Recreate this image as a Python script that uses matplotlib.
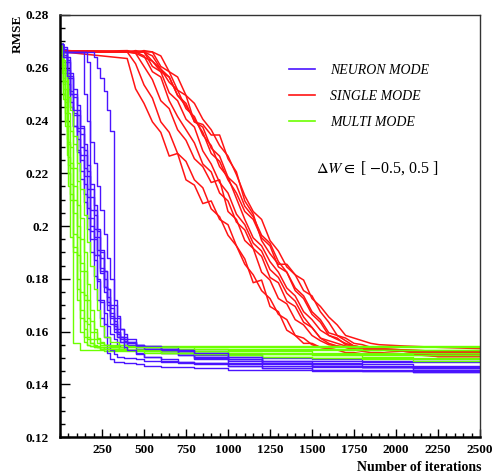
import matplotlib
matplotlib.use("Agg")
import matplotlib.pyplot as plt
from matplotlib.lines import Line2D
from matplotlib.ticker import MultipleLocator, FixedLocator

# iteration grids (x values shared by the runs of one mode)
red_x = [0, 20, 400, 450, 500, 550, 600, 650, 700, 750, 800, 850, 900, 950,
         1000, 1050, 1100, 1150, 1200, 1250, 1300, 1350, 1400, 1450, 1500,
         1550, 1600, 1650, 1700, 1750, 1800, 1850, 1900, 2050, 2250, 2500]
blue_x = [0, 20, 40, 60, 80, 100, 120, 140, 160, 180, 200, 220, 240, 260, 280,
          300, 320, 340, 360, 380, 400, 450, 500, 600, 700, 800, 1000, 1200,
          1500, 1800, 2100, 2500]
green_x = [0, 10, 20, 30, 40, 50, 60, 80, 100, 120, 140, 160, 180, 200, 220,
           240, 260, 300, 350, 400, 500, 600, 800, 1000, 1200, 1500, 1800,
           2100, 2500]

# SINGLE MODE runs
red_runs = [
    [.269, .266, .2635, .252, .2465, .2395, .2355, .2265, .2275, .2175, .2155, .2085, .2095, .2025, .2005, .1925, .1875, .1785,
     .1795, .1695, .1675, .1605, .1585, .1555, .1555, .154, .1535, .153, .153, .153, .153, .153, .153, .1525, .1525, .1525],
    [.269, .2665, .266, .2615, .2535, .2485, .2395, .2355, .2275, .2245, .2175, .2145, .2065, .2035, .1965, .1925, .1855, .1815,
     .1755, .1725, .1665, .1645, .1585, .1575, .155, .154, .1535, .153, .152, .152, .1515, .1515, .1515, .1515, .151, .151],
    [.269, .266, .266, .2655, .2605, .2555, .2475, .2445, .2365, .2325, .2255, .2225, .2165, .2175, .2055, .2025, .1945, .1915,
     .1825, .1795, .1725, .1705, .1645, .1625, .1585, .1565, .155, .1545, .154, .1535, .153, .153, .153, .1525, .1525, .1525],
    [.269, .2665, .266, .266, .2645, .2585, .2565, .2475, .2415, .2365, .2315, .2235, .2205, .2125, .2095, .2015, .1985, .1915,
     .1885, .1805, .1785, .1715, .1695, .1635, .1615, .1575, .1555, .1545, .154, .153, .1525, .152, .152, .1515, .1505, .1505],
    [.269, .266, .2665, .266, .266, .2605, .2585, .2505, .2475, .2405, .2375, .2285, .2235, .2165, .2125, .2045, .2005, .1935,
     .1905, .1835, .1805, .1745, .1715, .1655, .1615, .1575, .1565, .1555, .1545, .154, .1535, .153, .153, .1525, .152, .152],
    [.269, .2665, .266, .266, .266, .2625, .2595, .2545, .2515, .2445, .2415, .2345, .2305, .2225, .2185, .2105, .2025, .1955,
     .1925, .1865, .1825, .1765, .1735, .1675, .1645, .1605, .1585, .157, .1555, .1545, .154, .1535, .1535, .153, .1525, .1525],
    [.269, .266, .266, .2665, .266, .266, .2605, .2585, .2515, .2495, .2395, .2375, .2295, .2265, .2185, .2155, .2075, .2035,
     .1965, .1935, .1865, .1825, .1765, .1735, .1675, .1645, .1595, .1585, .1565, .1545, .154, .1535, .1535, .153, .1525, .1525],
    [.269, .266, .266, .266, .2665, .266, .2645, .2585, .2565, .2495, .2465, .2405, .2365, .2305, .2265, .2195, .2115, .2055,
     .2025, .1945, .1905, .1845, .1815, .1755, .1735, .1675, .1635, .1585, .1575, .1555, .155, .154, .1535, .1525, .1515, .1515],
    [.269, .266, .266, .2655, .264, .2625, .2585, .2565, .2495, .2465, .2395, .2385, .2345, .2345, .2255, .2205, .2095, .2045,
     .1945, .1895, .1855, .1855, .1815, .1795, .1725, .1695, .1655, .1625, .1585, .1575, .1565, .1555, .155, .1545, .154, .1535],
    [.269, .2665, .266, .266, .266, .2645, .2595, .2565, .2495, .2455, .2405, .2355, .2275, .2245, .2175, .2125, .2055, .2025,
     .1955, .1925, .1845, .1825, .1755, .1725, .1665, .1635, .1585, .1575, .155, .1545, .154, .1535, .153, .1525, .1505, .1505],
]

# NEURON MODE runs
blue_runs = [
    [.269, .262, .254, .245, .238, .229, .221, .212, .203, .195, .187, .179, .172, .167, .162, .159,
     .157, .155, .154, .1535, .153, .152, .1505, .149, .1485, .148, .1475, .147, .1465, .1465, .146, .146],
    [.269, .266, .259, .251, .243, .236, .227, .219, .211, .203, .196, .189, .182, .175, .168, .163,
     .160, .158, .156, .155, .1545, .1535, .153, .152, .151, .1495, .148, .1475, .147, .1465, .146, .146],
    [.269, .267, .262, .256, .249, .242, .235, .227, .219, .211, .204, .196, .188, .180, .173, .167,
     .163, .160, .158, .157, .156, .155, .154, .1525, .151, .150, .1495, .149, .149, .1485, .1485, .1485],
    [.269, .266, .264, .258, .252, .246, .238, .231, .223, .216, .208, .199, .191, .183, .176, .169,
     .164, .160, .158, .156, .155, .1545, .154, .1535, .153, .1525, .151, .150, .1495, .149, .149, .149],
    [.269, .264, .256, .247, .238, .228, .218, .209, .199, .190, .181, .172, .165, .158, .152, .1495,
     .1485, .1485, .1485, .148, .148, .1475, .147, .1465, .1465, .146, .1455, .1455, .145, .145, .145, .145],
    [.269, .265, .258, .250, .242, .233, .225, .216, .207, .198, .189, .180, .171, .163, .158, .153,
     .1515, .1505, .1505, .150, .150, .1495, .149, .1485, .148, .1475, .147, .146, .1455, .1455, .1445, .1445],
    [.269, .266, .266, .266, .266, .266, .266, .266, .262, .200, .195, .189, .183, .177, .171, .166,
     .162, .159, .157, .156, .155, .154, .1535, .153, .152, .151, .1495, .148, .147, .1465, .146, .146],
    [.269, .266, .266, .266, .266, .266, .266, .266, .266, .266, .264, .260, .256, .251, .244, .236,
     .170, .165, .161, .159, .157, .155, .1545, .1535, .1525, .151, .1495, .148, .1475, .147, .147, .147],
    [.269, .266, .266, .266, .266, .266, .266, .250, .240, .232, .224, .215, .206, .197, .188, .180,
     .172, .166, .161, .158, .156, .1545, .154, .153, .152, .1505, .149, .148, .147, .1465, .1455, .1455],
    [.269, .268, .263, .257, .250, .244, .237, .229, .221, .214, .206, .198, .190, .183, .176, .170,
     .165, .161, .158, .1565, .1555, .155, .1545, .154, .153, .152, .1505, .149, .148, .1475, .1465, .1465],
    [.269, .264, .257, .250, .244, .237, .230, .222, .214, .206, .199, .191, .184, .177, .170, .165,
     .161, .158, .156, .154, .153, .1515, .1505, .1495, .1485, .148, .147, .146, .1455, .145, .1445, .1445],
]

# MULTI MODE runs
green_runs = [
    [.269, .258, .248, .238, .227, .215, .196, .1555, .1555, .153, .153, .153, .153, .153, .153,
     .153, .1525, .1525, .1525, .1525, .152, .152, .152, .1515, .1515, .151, .151, .151, .151],
    [.269, .262, .255, .247, .240, .232, .224, .210, .196, .183, .172, .163, .157, .155, .154,
     .1535, .1535, .153, .153, .153, .1525, .1525, .152, .152, .1515, .151, .1505, .150, .150],
    [.269, .266, .258, .258, .258, .252, .245, .231, .217, .203, .190, .178, .168, .161, .157,
     .1555, .155, .1545, .154, .154, .1535, .1535, .1535, .153, .153, .153, .153, .153, .153],
    [.269, .264, .256, .248, .240, .231, .222, .205, .189, .175, .164, .158, .1555, .1545, .154,
     .154, .1535, .1535, .153, .153, .153, .1525, .1525, .152, .152, .1515, .1515, .151, .151],
    [.269, .260, .250, .240, .230, .220, .210, .192, .176, .165, .158, .155, .1545, .154, .154,
     .1535, .1535, .1535, .153, .153, .153, .153, .1525, .1525, .1525, .152, .152, .152, .152],
    [.269, .267, .263, .259, .254, .249, .244, .234, .224, .214, .204, .194, .185, .176, .168,
     .162, .158, .156, .155, .1545, .154, .154, .1535, .1535, .1535, .1535, .153, .153, .153],
    [.269, .265, .259, .252, .245, .238, .230, .215, .200, .186, .174, .165, .160, .157, .1555,
     .155, .155, .155, .155, .1545, .1545, .1545, .1545, .1545, .1545, .1545, .1545, .1545, .1545],
    [.269, .263, .254, .245, .236, .226, .216, .197, .180, .168, .161, .157, .1555, .1545, .1545,
     .154, .154, .154, .1535, .153, .1525, .152, .1515, .151, .1505, .150, .1495, .149, .149],
    [.269, .266, .261, .255, .249, .243, .236, .222, .208, .195, .183, .172, .164, .160, .1575,
     .156, .155, .154, .1535, .153, .1525, .152, .1515, .151, .1505, .150, .150, .1495, .1495],
    [.269, .261, .252, .243, .233, .223, .212, .190, .172, .160, .156, .155, .1545, .154, .154,
     .154, .1535, .1535, .1535, .154, .154, .154, .154, .154, .154, .154, .154, .154, .154],
]

mode_names = ["NEURON MODE", "SINGLE MODE", "MULTI MODE"]
y_ticks = [0.12, 0.14, 0.16, 0.18, 0.2, 0.22, 0.24, 0.26, 0.28]
y_tick_labels = ["0.12", "0.14", "0.16", "0.18", "0.2", "0.22", "0.24", "0.26", "0.28"]
x_ticks = [250, 500, 750, 1000, 1250, 1500, 1750, 2000, 2250, 2500]

BLUE = "#4a14ff"
RED = "#ff1414"
GREEN = "#6cff00"

plt.rcParams["font.family"] = ["Liberation Serif", "DejaVu Serif"]
plt.rcParams["mathtext.fontset"] = "stix"

fig = plt.figure(figsize=(4.94, 4.73), dpi=100)
ax = fig.add_axes([60 / 494, 1 - 437 / 473, 420 / 494, 422 / 473])

# single mode first, the other two interleaved on top of it
for run in red_runs:
    ax.plot(red_x, run, color=RED, lw=1.1)
n = max(len(blue_runs), len(green_runs))
for i in range(n):
    if i < len(blue_runs):
        ax.plot(blue_x, blue_runs[i], drawstyle="steps-post", color=BLUE, lw=1.0)
    if i < len(green_runs):
        ax.plot(green_x, green_runs[i], drawstyle="steps-post", color=GREEN, lw=1.0)

ax.set_xlim(0, 2500)
ax.set_ylim(0.12, 0.28)

ax.xaxis.set_major_locator(FixedLocator(x_ticks))
ax.xaxis.set_minor_locator(MultipleLocator(50))
ax.set_xticklabels([str(v) for v in x_ticks])
ax.set_yticks(y_ticks)
ax.set_yticklabels(y_tick_labels)
ax.yaxis.set_minor_locator(MultipleLocator(0.005))

ax.tick_params(axis="both", which="both", direction="in", top=False, right=False,
               width=1.0, labelsize=9.5)
ax.tick_params(axis="x", which="major", length=5.5, pad=5)
ax.tick_params(axis="x", which="minor", length=2.8)
ax.tick_params(axis="y", which="major", length=7.5, pad=8)
ax.tick_params(axis="y", which="minor", length=3.8)
for lab in ax.get_xticklabels() + ax.get_yticklabels():
    lab.set_fontweight("bold")

for side in ["left", "bottom"]:
    ax.spines[side].set_linewidth(1.8)
    ax.spines[side].set_color("black")
for side in ["top", "right"]:
    ax.spines[side].set_linewidth(1.0)
    ax.spines[side].set_color("#333333")

fig.text(18 / 494, 1 - 15 / 473, "RMSE", rotation=90, ha="center", va="top",
         fontsize=9.5, fontweight="bold")
fig.text(481 / 494, 1 - 467 / 473, "Number of iterations", ha="right", va="center",
         fontsize=10, fontweight="bold")

handles = [Line2D([], [], color=c, lw=1.2) for c in (BLUE, RED, GREEN)]
leg = ax.legend(handles, mode_names, loc="upper left",
                bbox_to_anchor=((283 - 60) / 420, (437 - 58) / 422),
                frameon=False, fontsize=10, handlelength=1.9, handletextpad=1.1,
                labelspacing=0.95, borderaxespad=0)
for t in leg.get_texts():
    t.set_fontstyle("italic")

ax.text((377 - 60) / 420, (437 - 168) / 422, r"$\Delta W \in$ [ $-$0.5, 0.5 ]",
        transform=ax.transAxes, ha="center", va="center", fontsize=11.5)

fig.savefig("out.png", dpi=100)
